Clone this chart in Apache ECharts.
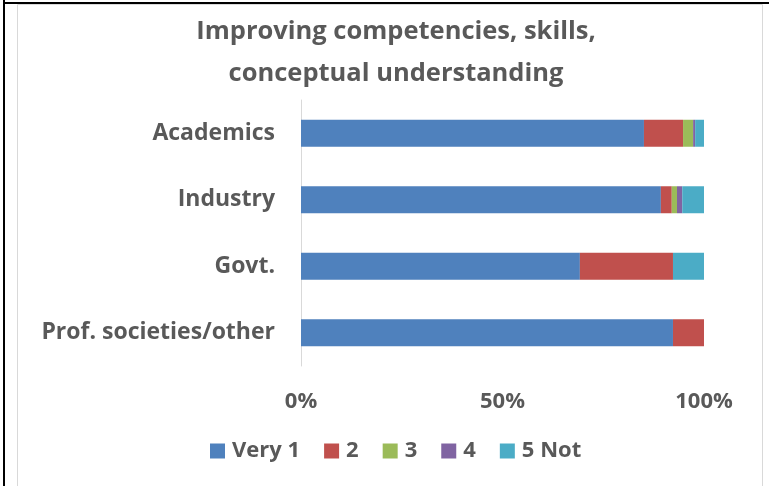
<!DOCTYPE html>
<html>
<head>
<meta charset="utf-8">
<script src="https://cdn.jsdelivr.net/npm/echarts@6/dist/echarts.min.js"></script>
<style>
  html, body { margin: 0; padding: 0; background: #fff; }
  #chart { width: 769px; height: 486px; }
</style>
</head>
<body>
<div id="chart"></div>
<script>
// Response shares (%) per sector, stacked to 100%
const categories = ['Academics', 'Industry', 'Govt.', 'Prof. societies/other'];
const seriesNames = ['Very 1', '2', '3', '4', '5 Not'];
const very1 = [85.1, 89.3, 69.2, 92.3];
const two   = [9.7, 2.7, 23.1, 7.7];
const three = [2.5, 1.3, 0, 0];
const four  = [0.5, 1.3, 0, 0];
const fiveNot = [2.2, 5.4, 7.7, 0];
const tickLabels = ['0%', '50%', '100%'];

const colors = ['#4F81BD', '#C0504D', '#9BBB59', '#8064A2', '#4BACC6'];
const values = [very1, two, three, four, fiveNot];
const font = '"Open Sans", sans-serif';
const textColor = '#595959';

const chart = echarts.init(document.getElementById('chart'), null, { renderer: 'canvas' });

chart.setOption({
  backgroundColor: '#ffffff',
  animation: false,
  title: {
    text: 'Improving competencies, skills,\nconceptual understanding',
    left: 391,
    textAlign: 'center',
    top: 6,
    textStyle: {
      fontFamily: font,
      fontWeight: 'bold',
      fontSize: 25.5,
      color: textColor,
      lineHeight: 42
    }
  },
  legend: {
    data: seriesNames,
    left: 205,
    top: 435,
    itemWidth: 15,
    itemHeight: 15,
    itemGap: 24,
    icon: 'rect',
    textStyle: { fontFamily: font, fontWeight: 'bold', fontSize: 22, color: textColor, padding: [0, 0, 0, 2] }
  },
  grid: { left: 301, right: 65, top: 100, bottom: 120, containLabel: false },
  xAxis: {
    type: 'value',
    min: 0,
    max: 100,
    interval: 50,
    axisLine: { show: false },
    axisTick: { show: false },
    splitLine: { show: false },
    axisLabel: {
      margin: 25,
      fontFamily: font,
      fontWeight: 'bold',
      fontSize: 22,
      color: textColor,
      formatter: v => tickLabels[v / 50]
    }
  },
  yAxis: {
    type: 'category',
    data: categories,
    inverse: true,
    axisLine: { show: true, lineStyle: { color: '#D9D9D9', width: 1 } },
    axisTick: { show: false },
    axisLabel: {
      margin: 26,
      fontFamily: font,
      fontWeight: 'bold',
      fontSize: 23,
      color: textColor
    }
  },
  graphic: [
    { type: 'rect', shape: { x: 3, y: 0, width: 2, height: 486 }, style: { fill: '#000' }, silent: true },
    { type: 'rect', shape: { x: 3, y: 2, width: 766, height: 2 }, style: { fill: '#000' }, silent: true },
    { type: 'rect', shape: { x: 17.5, y: 4.5, width: 745, height: 490 }, style: { fill: 'none', stroke: '#D9D9D9', lineWidth: 1 }, silent: true }
  ],
  series: seriesNames.map((name, i) => ({
    name,
    type: 'bar',
    stack: 'total',
    barWidth: 27,
    itemStyle: { color: colors[i] },
    data: values[i]
  }))
});
</script>
</body>
</html>
